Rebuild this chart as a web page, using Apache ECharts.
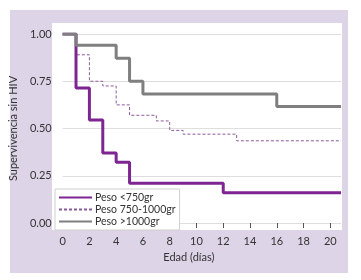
<!DOCTYPE html>
<html>
<head>
<meta charset="utf-8">
<script src="https://cdn.jsdelivr.net/npm/echarts@6/dist/echarts.min.js"></script>
<style>
  html, body { margin: 0; padding: 0; background: #fff; }
  .panel {
    position: absolute;
    left: 10px;
    top: 10px;
    width: 338px;
    height: 263px;
    background: #ddd4e7;
  }
  #chart {
    position: absolute;
    left: 0;
    top: 0;
    width: 361px;
    height: 280px;
  }
</style>
</head>
<body>
<div class="panel"></div>
<div id="chart"></div>
<script>
// Kaplan-Meier curves, [day, survival]
const pesoBajo = [[0, 1], [1, 0.714], [2, 0.545], [3, 0.37], [4, 0.322], [5, 0.21], [12, 0.16], [20.8, 0.16]];
const pesoMedio = [[0, 1], [1, 0.89], [2, 0.75], [3, 0.725], [4, 0.625], [5, 0.57], [7, 0.54], [8, 0.49], [9, 0.47], [13, 0.435], [20.8, 0.435]];
const pesoAlto = [[0, 1], [1, 0.94], [4, 0.872], [5, 0.75], [6, 0.682], [16, 0.617], [20.8, 0.617]];

const seriesNames = ['Peso <750gr', 'Peso 750-1000gr', 'Peso >1000gr'];
const xTicks = [0, 2, 4, 6, 8, 10, 12, 14, 16, 18, 20];

const font = 'Lato';

const chart = echarts.init(document.getElementById('chart'));

chart.setOption({
  animation: false,
  textStyle: { fontFamily: font },
  graphic: [
    {
      type: 'rect',
      z: -10,
      shape: { x: 52, y: 23, width: 290, height: 207 },
      style: { fill: '#ffffff' },
      silent: true
    }
  ],
  grid: {
    left: 58,
    right: 20,
    top: 34,
    bottom: 57
  },
  xAxis: {
    type: 'value',
    min: 0,
    max: 20.8,
    offset: 6,
    name: 'Edad (días)',
    nameLocation: 'middle',
    nameGap: 21,
    nameTextStyle: { color: '#333', fontSize: 11, padding: [0, 26, 0, 0] },
    axisLine: { show: false },
    axisTick: { show: true, length: 5, customValues: xTicks, lineStyle: { color: '#555' } },
    axisLabel: { customValues: xTicks, color: '#333', fontSize: 11, margin: 7 },
    splitLine: { show: false }
  },
  yAxis: {
    type: 'value',
    min: 0,
    max: 1,
    interval: 0.25,
    name: 'Supervivencia sin HIV',
    nameLocation: 'middle',
    nameGap: 28,
    nameTextStyle: { color: '#333', fontSize: 11 },
    axisLine: { show: false },
    axisTick: { show: false },
    axisLabel: {
      color: '#333',
      fontSize: 11,
      margin: 11,
      formatter: v => v.toFixed(2)
    },
    splitLine: { lineStyle: { color: '#dedede', width: 1 } }
  },
  legend: {
    orient: 'vertical',
    left: 55,
    top: 189,
    padding: [3, 4, 3, 3],
    itemGap: 1,
    itemWidth: 33,
    itemHeight: 10,
    backgroundColor: '#ffffff',
    borderColor: '#cfcfcf',
    borderWidth: 1,
    borderRadius: 0,
    itemStyle: { opacity: 0 },
    textStyle: { color: '#333', fontSize: 10.5, lineHeight: 10, padding: [0, 0, 0, -2] },
    data: seriesNames
  },
  series: [
    {
      name: seriesNames[0],
      type: 'line',
      step: 'end',
      symbol: 'none',
      z: 3,
      data: pesoBajo,
      lineStyle: { color: '#7d2590', width: 3 },
      itemStyle: { color: '#7d2590' }
    },
    {
      name: seriesNames[1],
      type: 'line',
      step: 'end',
      symbol: 'none',
      z: 2,
      data: pesoMedio,
      lineStyle: { color: '#8a5a9a', width: 1, type: [3, 2] },
      itemStyle: { color: '#8a5a9a' }
    },
    {
      name: seriesNames[2],
      type: 'line',
      step: 'end',
      symbol: 'none',
      z: 4,
      data: pesoAlto,
      lineStyle: { color: '#7f7f7f', width: 3 },
      itemStyle: { color: '#7f7f7f' }
    }
  ]
});

window.addEventListener('resize', () => chart.resize());
</script>
</body>
</html>
